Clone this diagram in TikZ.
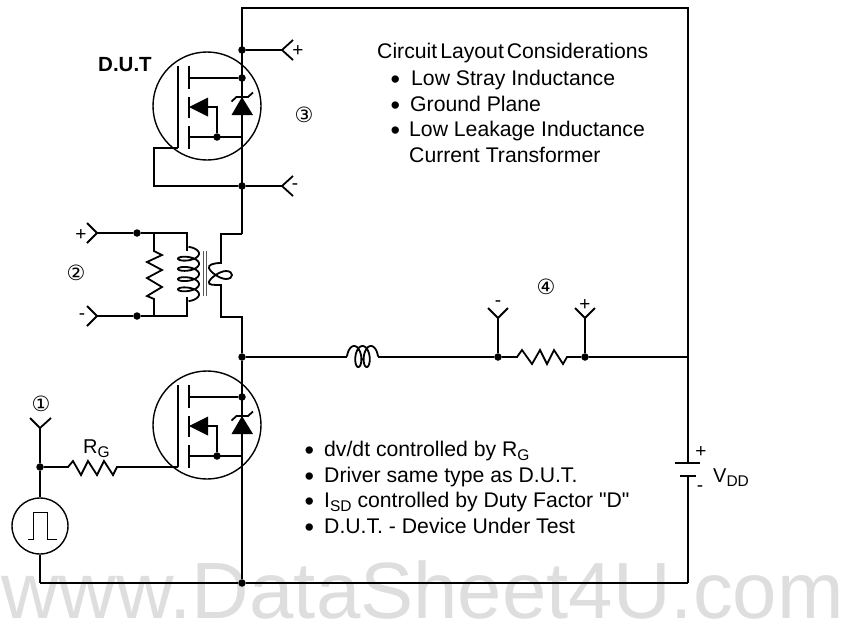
\documentclass[tikz,border=0pt]{standalone}
\usepackage{fontspec}
\setmainfont{Liberation Sans}
\newfontfamily\plainf{Liberation Sans}
\newfontfamily\symfont{DejaVu Sans}
\tikzset{
  wire/.style={line width=1.8pt,line join=miter},
  thinwire/.style={line width=1pt},
  corewire/.style={line width=1pt,black!65},
  jdot/.style={circle,fill=black,inner sep=0pt,minimum size=7.5pt},
  txt/.style={inner sep=0pt,anchor=base west,font=\fontsize{21.2}{22}\selectfont},
  lbl/.style={inner sep=0pt,anchor=base west,font=\fontsize{20}{22}\selectfont},
  sign/.style={inner sep=0pt,font=\fontsize{19}{19}\selectfont},
  circnum/.style={inner sep=0pt,font=\symfont\fontsize{21}{21}\selectfont}
}
\newcommand{\subt}[1]{\raisebox{-4pt}{\fontsize{15.5}{16}\selectfont #1}}
\newcommand{\bulx}[1]{\makebox[#1][l]{\raisebox{-3.5pt}{\fontsize{27}{27}\selectfont •}}}
\newcommand{\mosfet}[2]{%
  \begin{scope}[yshift=#1]
    \node[draw,circle,line width=1.4pt,minimum size=108pt,inner sep=0pt] (#2c) at (207,106) {};
    \coordinate (#2gt) at (178,66); \coordinate (#2gb) at (178,148);
    \draw[wire] (#2gt) -- (#2gb);
    \draw[line width=2pt] (189,66) -- (189,89) (189,97) -- (189,118) (189,126) -- (189,149);
    \node[jdot] (#2dd) at (242,78) {};
    \node[jdot] (#2ds) at (217,137) {};
    \coordinate (#2ch) at (189,78); \coordinate (#2cl) at (189,137);
    \coordinate (#2sw) at (242,137);
    \draw[wire] (#2ch) -- (#2dd);
    \draw[wire] (#2cl) -- (#2sw);
    \fill (189,107) -- (208,97.5) -- (208,116.5) -- cycle;
    \draw[wire] (208,107) -- (217,107) -- (#2ds);
    \fill (242,97) -- (253,115) -- (231.5,115) -- cycle;
    \draw[wire] (231.5,101.5) -- (236.5,97) -- (248,97) -- (253,92.5);
  \end{scope}}
\begin{document}
\begin{tikzpicture}[x=1pt,y=-1pt]
\useasboundingbox (0,0) rectangle (841,625);
% watermark
\node[inner sep=0pt,anchor=base west,text=black!13,font=\fontsize{79.8}{80}\selectfont] (wm) at (1,618) {www.DataSheet4U.com};

\mosfet{0pt}{u}
\mosfet{-319pt}{l}

% junctions
\node[jdot] (j1) at (242,50) {};
\node[jdot] (j2) at (242,186) {};
\node[jdot] (j3) at (242,357) {};
\node[jdot] (j4) at (242,583) {};
\node[jdot] (j5) at (137,233) {};
\node[jdot] (j6) at (137,316) {};
\node[jdot] (j7) at (40,467) {};
\node[jdot] (j8) at (498,357) {};
\node[jdot] (j9) at (585,357) {};
\coordinate (tr) at (688,8);
\coordinate (mr) at (688,357);
\coordinate (br) at (688,583);
\coordinate (bl) at (40,583);

% main loop
\draw[wire] (242,234) -- (242,8) -- (tr) -- (mr) -- (688,463);
\coordinate (b2) at (688,476);
\draw[wire] (675,463) -- (700,463);
\draw[wire] (680,476) -- (696,476);
\draw[wire] (b2) -- (br);
\draw[wire] (bl) -- (j4) -- (br);
\draw[wire] (j3) -- (j4);

% terminals
\draw[wire] (j1) -- (282,50) (293,40) -- (282,50) -- (293,60);
\draw[wire] (j2) -- (282,186) (293,176) -- (282,186) -- (293,196);
\draw[wire] (j5) -- (97,233) (87,223) -- (97,233) -- (87,243);
\draw[wire] (j6) -- (97,316) (87,306) -- (97,316) -- (87,326);
\draw[wire] (j7) -- (40,428) (30,418) -- (40,428) -- (51,418);
\draw[wire] (j8) -- (498,318) (488,308) -- (498,318) -- (508,308);
\draw[wire] (j9) -- (585,318) (575,308) -- (585,318) -- (595,308);

% gate feedback loop of D.U.T
\draw[wire] (ugb) -- (154,148) -- (154,186) -- (j2);

% sense resistor and primary
\draw[wire] (j5) -- (187,233) -- (187,251);
\draw[wire] (j6) -- (187,316) -- (187,297);
\draw[wire] (154,233) -- (154,251) -- (162,255) -- (147,262) -- (162,270) -- (147,278) -- (162,287) -- (147,296) -- (154,299) -- (154,316);
\draw[wire] plot[domain=-90:1530,samples=220,variable=\t] ({188.5+10.5*cos(\t)},{251+(\t+90)/1620*46+4.2*sin(\t)});
\draw[corewire] (203,251) -- (203,296) (206.5,251) -- (206.5,296);

% secondary
\draw[wire] (242,234) -- (221,234) -- (221,263)
  .. controls (213,263) and (208,265) .. (209,268)
  .. controls (210,272) and (220,279) .. (226,279)
  .. controls (230,279) and (232,277) .. (232,275)
  .. controls (232,273) and (230,271) .. (226,271)
  .. controls (220,271) and (210,278) .. (209,282)
  .. controls (208,285) and (213,285) .. (221,285)
  -- (221,317) -- (242,317) -- (j3);

% power stage
\draw[wire] (j3) -- (347,357);
\draw[wire] plot[domain=0:900,samples=160,variable=\t] ({352+\t/900*21-5*cos(\t)},{356.5-10.5*sin(\t)});
\draw[wire] (378,357) -- (j8) -- (517,357) -- (522,350) -- (532,364) -- (540,350) -- (547,364) -- (554,350) -- (563,364) -- (567,357) -- (j9) -- (mr);

% gate drive
\node[draw,circle,line width=1.4pt,minimum size=56pt,inner sep=0pt] (pulse) at (40,526) {};
\draw[wire] (j7) -- (pulse.north);
\draw[wire] (pulse.south) -- (bl);
\draw[wire] (j7) -- (68,467) -- (73,461) -- (81,475) -- (88,461) -- (97,475) -- (104,461) -- (113,475) -- (117,467) -- (lgb);
\draw[thinwire] (28,539) -- (33,539) -- (33,512) -- (47,512) -- (47,539) -- (57,539);

% text
\node[inner sep=0pt,anchor=base west,font=\bfseries\fontsize{20.5}{21}\selectfont] (dut) at (98,71) {D.U.T};
\node[txt] (t1) at (377,58) {\spaceskip=3pt Circuit Layout Considerations};
\node[txt] (t2) at (390.3,85) {\bulx{20.7pt}Low Stray Inductance};
\node[txt] (t3) at (390.3,111) {\bulx{19.7pt}Ground Plane};
\node[txt] (t4) at (390.3,136) {\bulx{18.7pt}Low Leakage Inductance};
\node[txt] (t5) at (409,162) {Current Transformer};
\node[txt] (t6) at (304.3,456) {\bulx{19.7pt}dv/dt controlled by R\subt{G}};
\node[txt] (t7) at (304.3,482) {\bulx{19.7pt}Driver same type as D.U.T.};
\node[txt] (t8) at (304.3,507) {\bulx{19.7pt}I\subt{SD} controlled by Duty Factor {\plainf"}D{\plainf"}};
\node[txt] (t9) at (304.3,533) {\bulx{19.7pt}D.U.T. - Device Under Test};
\node[lbl] (rg) at (83,453) {R\subt{G}};
\node[lbl] (vdd) at (713,482) {V\subt{DD}};

\node[sign] (s1) at (298,51) {+};
\node[sign] (s2) at (295,187) {-};
\node[sign] (s3) at (81,235) {+};
\node[sign] (s4) at (82,317) {-};
\node[sign] (s5) at (498,304) {-};
\node[sign] (s6) at (585,305) {+};
\node[sign] (s7) at (701,452) {+};
\node[sign] (s8) at (700,489) {-};
\node[circnum] (n1) at (41,404) {①};
\node[circnum] (n2) at (76,273) {②};
\node[circnum] (n3) at (304,115) {③};
\node[circnum] (n4) at (546,287) {④};
\end{tikzpicture}
\end{document}
